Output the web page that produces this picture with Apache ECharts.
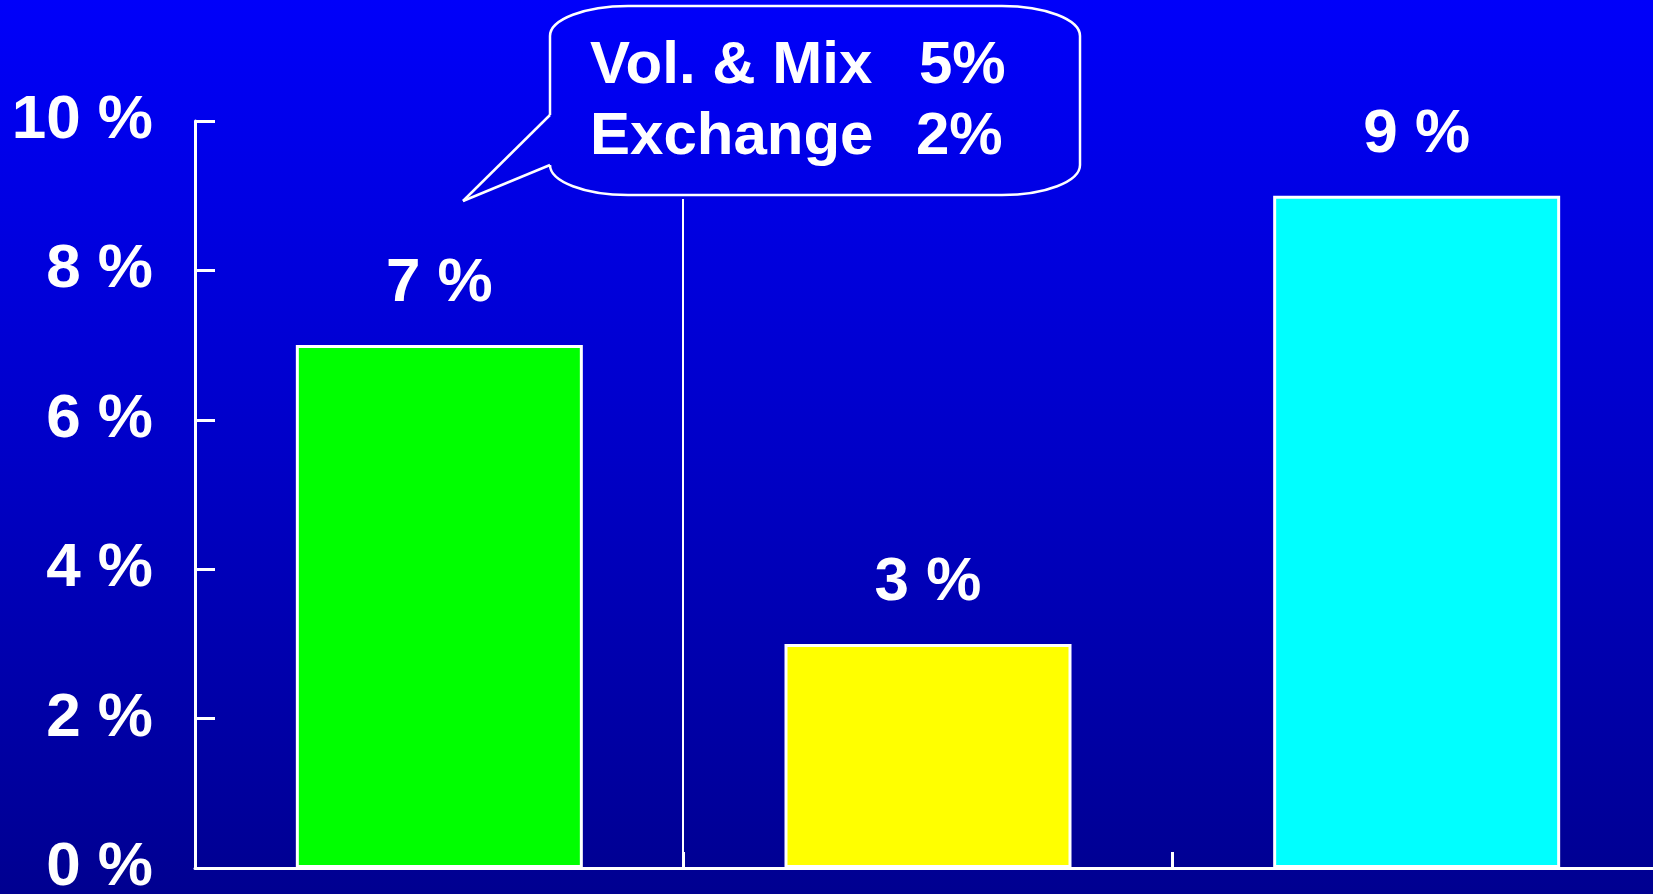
<!DOCTYPE html>
<html>
<head>
<meta charset="utf-8">
<script src="https://cdn.jsdelivr.net/npm/echarts@6/dist/echarts.min.js"></script>
<style>
  html, body { margin: 0; padding: 0; }
  #growthChart {
    width: 1653px;
    height: 894px;
    background: linear-gradient(to bottom, #0000fa 0%, #0000c8 50%, #000090 100%);
  }
</style>
</head>
<body>
<div id="growthChart"></div>
<script>
  // data
  const categories = ['Bar 1', 'Bar 2', 'Bar 3']
  const growthValues = [7, 3, 9]
  const barColors = ['#00ff00', '#ffff00', '#00ffff']
  const yTicks = {min: 0, max: 10, interval: 2}
  const calloutRows = [
    {name: 'Vol. & Mix', value: '5%'},
    {name: 'Exchange', value: '2%'}
  ]

  const FONT = '"Liberation Sans", Arial, sans-serif'
  const LINE = {stroke: '#fff', lineWidth: 2.5, fill: null}

  // callout bubble outline (annotation only), built from lines and curves
  function bubble(l, r, t, b, rx, ry, tip) {
    const k = 0.5523
    let seg = (x1, y1, x2, y2) => ({type: 'line', shape: {x1, y1, x2, y2}, style: LINE})
    let corner = (x1, y1, cpx1, cpy1, cpx2, cpy2, x2, y2) => ({
      type: 'bezierCurve',
      shape: {x1, y1, cpx1, cpy1, cpx2, cpy2, x2, y2},
      style: LINE
    })
    return [
      seg(l + rx, t, r - rx, t),
      corner(r - rx, t, r - rx + rx * k, t, r, t + ry - ry * k, r, t + ry),
      seg(r, t + ry, r, b - ry),
      corner(r, b - ry, r, b - ry + ry * k, r - rx + rx * k, b, r - rx, b),
      seg(r - rx, b, l + rx, b),
      corner(l + rx, b, l + rx - rx * k, b, l, b - ry + ry * k, l, b - ry),
      seg(l, b - ry, tip.x, tip.y),
      seg(tip.x, tip.y, l, tip.top),
      seg(l, tip.top, l, t + ry),
      corner(l, t + ry, l, t + ry - ry * k, l + rx - rx * k, t, l + rx, t)
    ]
  }

  let calloutText = []
  calloutRows.forEach((row, i) => {
    let y = 66 + i * 71
    calloutText.push({
      type: 'text', x: 590, y: y,
      style: {text: row.name, fill: '#fff', fontSize: 60, fontWeight: 'bold', fontFamily: FONT, verticalAlign: 'middle'}
    })
    calloutText.push({
      type: 'text', x: 919 - i * 3, y: y,
      style: {text: row.value, fill: '#fff', fontSize: 60, fontWeight: 'bold', fontFamily: FONT, verticalAlign: 'middle'}
    })
  })

  let mychart = echarts.init(document.getElementById('growthChart'))
  let option = {
    backgroundColor: 'transparent',
    animation: false,
    grid: {
      left: 195,
      right: -8,
      top: 121,
      bottom: 26,
      containLabel: false,
      outerBoundsMode: 'none'
    },
    xAxis: {
      type: 'category',
      data: categories,
      axisLine: {
        show: true,
        lineStyle: {color: '#fff', width: 3}
      },
      axisTick: {
        show: true,
        inside: true,
        length: 16,
        lineStyle: {color: '#fff', width: 3}
      },
      axisLabel: {show: false},
      splitLine: {show: false}
    },
    yAxis: {
      type: 'value',
      min: yTicks.min,
      max: yTicks.max,
      interval: yTicks.interval,
      axisLine: {
        show: true,
        lineStyle: {color: '#fff', width: 3}
      },
      axisTick: {
        show: true,
        inside: true,
        length: 20,
        lineStyle: {color: '#fff', width: 3}
      },
      axisLabel: {
        margin: 42,
        color: '#fff',
        fontSize: 62,
        fontWeight: 'bold',
        fontFamily: FONT,
        formatter: '{value} %'
      },
      splitLine: {show: false}
    },
    series: [
      {
        type: 'bar',
        barWidth: 287,
        data: growthValues.map((v, i) => ({
          value: v,
          itemStyle: {color: barColors[i]}
        })),
        itemStyle: {
          borderColor: '#fff',
          borderWidth: 3
        },
        label: {
          show: true,
          position: 'top',
          distance: 30,
          color: '#fff',
          fontSize: 62,
          fontWeight: 'bold',
          fontFamily: FONT,
          formatter: '{c} %'
        }
      }
    ],
    graphic: bubble(550, 1080, 6, 195, 78, 30, {x: 463, y: 201, top: 115}).concat([
      {
        type: 'line',
        shape: {x1: 683, y1: 199, x2: 683, y2: 866},
        style: {stroke: '#fff', lineWidth: 2}
      }
    ], calloutText)
  }
  mychart.setOption(option)
</script>
</body>
</html>
